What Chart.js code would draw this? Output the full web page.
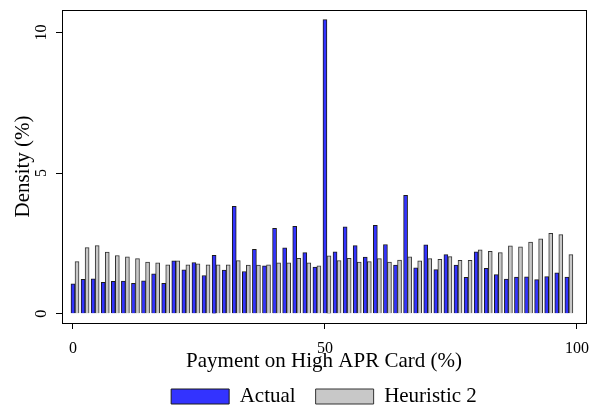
<!DOCTYPE html>
<html>
<head>
<meta charset="utf-8">
<script src="https://cdn.jsdelivr.net/npm/chart.js@4.4.0/dist/chart.umd.min.js"></script>
<style>
  html, body { margin: 0; padding: 0; background: #fff; }
</style>
</head>
<body>
<canvas id="chart" width="592" height="410"></canvas>
<script>
// bins of payment share (%), one pair of bars per bin
const bins = [0, 2, 4, 6, 8, 10, 12, 14, 16, 18, 20, 22, 24, 26, 28, 30, 32, 34, 36, 38,
  40, 42, 44, 46, 48, 50, 52, 54, 56, 58, 60, 62, 64, 66, 68, 70, 72, 74, 76, 78,
  80, 82, 84, 86, 88, 90, 92, 94, 96, 98];

const actual = [1.06, 1.22, 1.24, 1.12, 1.15, 1.16, 1.08, 1.17, 1.42, 1.08,
  1.88, 1.56, 1.82, 1.36, 2.08, 1.55, 3.82, 1.50, 2.29, 1.70,
  3.04, 2.34, 3.11, 2.17, 1.66, 10.46, 2.20, 3.09, 2.42, 2.01,
  3.14, 2.46, 1.73, 4.21, 1.63, 2.45, 1.57, 2.10, 1.73, 1.29,
  2.20, 1.61, 1.39, 1.23, 1.30, 1.31, 1.21, 1.32, 1.45, 1.30];

const heuristic2 = [1.85, 2.35, 2.42, 2.19, 2.07, 2.02, 1.96, 1.84, 1.81, 1.74,
  1.88, 1.74, 1.77, 1.74, 1.74, 1.74, 1.89, 1.73, 1.73, 1.74,
  1.81, 1.81, 1.97, 1.81, 1.70, 2.06, 1.89, 1.97, 1.84, 1.85,
  1.96, 1.84, 1.91, 2.02, 1.88, 1.96, 1.93, 2.03, 1.90, 1.90,
  2.27, 2.22, 2.17, 2.41, 2.38, 2.55, 2.66, 2.86, 2.81, 2.10];

const xTicks = [0, 50, 100];
const yTicks = [0, 5, 10];

const serif = '"Liberation Serif", "Times New Roman", serif';
const pairShift = 0.8; // second bar sits just right of the first

// box around the plot + rotated y tick labels (Stata style)
const framePlugin = {
  id: 'frame',
  afterDatasetsDraw(chart) {
    const { ctx, chartArea: a, scales } = chart;
    ctx.save();
    ctx.strokeStyle = '#000';
    ctx.lineWidth = 1;
    ctx.strokeRect(Math.round(a.left) + 0.5, Math.round(a.top) + 0.5,
      Math.round(a.right - a.left), Math.round(a.bottom - a.top));

    ctx.fillStyle = '#000';
    ctx.font = '16px ' + serif;
    ctx.textAlign = 'center';
    ctx.textBaseline = 'middle';
    yTicks.forEach(v => {
      const y = scales.y.getPixelForValue(v);
      ctx.save();
      ctx.translate(a.left - 20, y);
      ctx.rotate(-Math.PI / 2);
      ctx.fillText(String(v), 0, 0);
      ctx.restore();
    });
    ctx.restore();
  }
};

const ctx = document.getElementById('chart').getContext('2d');

new Chart(ctx, {
  type: 'bar',
  data: {
    datasets: [
      {
        label: 'Actual',
        data: bins.map((b, i) => ({ x: b, y: actual[i] })),
        backgroundColor: '#3333ff',
        borderColor: '#1a1a1a',
        borderWidth: 1
      },
      {
        label: 'Heuristic 2',
        data: bins.map((b, i) => ({ x: b + pairShift, y: heuristic2[i] })),
        backgroundColor: '#c8c8c8',
        borderColor: '#333',
        borderWidth: 1
      }
    ]
  },
  options: {
    responsive: false,
    animation: false,
    grouped: false,
    barThickness: 4,
    layout: { padding: { left: 0, right: 6, top: 10, bottom: -7 } },
    plugins: {
      tooltip: { enabled: false },
      legend: {
        position: 'bottom',
        fullSize: false,
        labels: {
          boxWidth: 58,
          boxHeight: 15,
          padding: 20,
          color: '#000',
          font: { family: serif, size: 21 }
        }
      }
    },
    scales: {
      x: {
        type: 'linear',
        offset: false,
        min: -2.18,
        max: 101.8,
        afterBuildTicks: s => { s.ticks = xTicks.map(v => ({ value: v })); },
        afterFit: s => { s.height = 43; s.paddingLeft = 0; s.paddingRight = 0; },
        border: { display: false },
        grid: { display: true, offset: false, drawOnChartArea: false, drawTicks: true, tickLength: 6, color: '#000' },
        ticks: { color: '#000', font: { family: serif, size: 16 }, maxRotation: 0, autoSkip: false, padding: 10 },
        title: {
          display: true,
          text: 'Payment on High APR Card (%)',
          color: '#000',
          font: { family: serif, size: 21 },
          padding: { top: 0, bottom: -8 }
        }
      },
      y: {
        min: -0.33,
        max: 10.8,
        afterBuildTicks: s => { s.ticks = yTicks.map(v => ({ value: v })); },
        afterFit: s => { s.width = 62; },
        border: { display: false },
        grid: { display: true, drawOnChartArea: false, drawTicks: true, tickLength: 6, color: '#000' },
        ticks: { display: false },
        title: {
          display: true,
          text: 'Density (%)',
          color: '#000',
          font: { family: serif, size: 21 },
          padding: { top: 11, bottom: 0 }
        }
      }
    }
  },
  plugins: [framePlugin]
});
</script>
</body>
</html>
